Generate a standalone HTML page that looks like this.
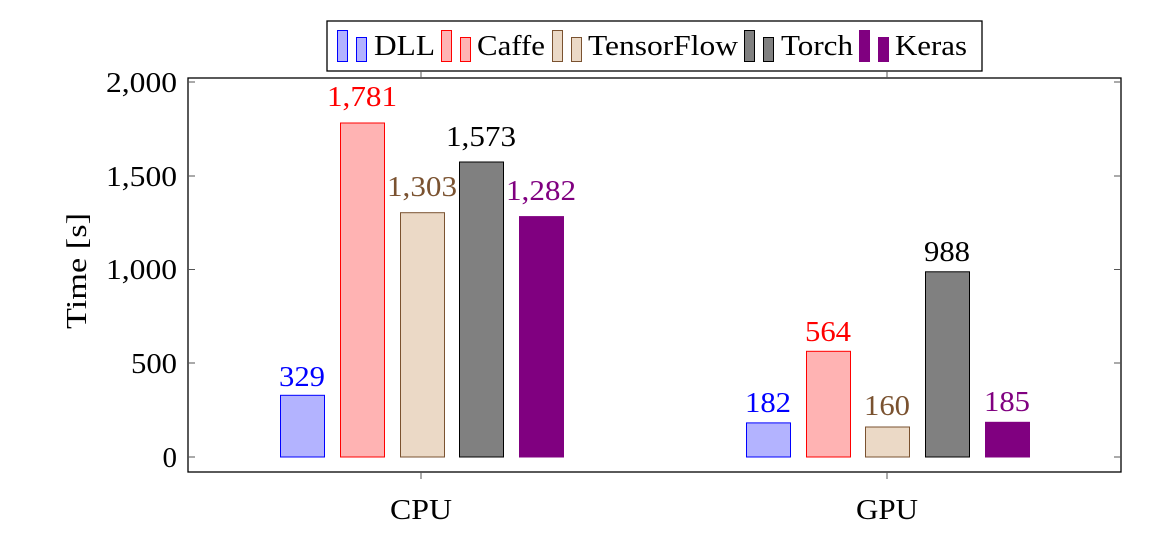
<!DOCTYPE html>
<html><head><meta charset="utf-8"><style>
html,body{margin:0;padding:0;background:#fff;}
svg text{font-family:"Liberation Serif",serif;font-size:29px;}
</style></head><body>
<svg width="1151" height="536" viewBox="0 0 1151 536" xmlns="http://www.w3.org/2000/svg">
<!-- legend -->
<rect x="327" y="21" width="655" height="50" fill="#fff" stroke="#000" stroke-width="1.3"/>
<rect x="337.5" y="30.5" width="10" height="31" fill="#b3b3ff" stroke="#00f"/>
<rect x="356.5" y="37.5" width="10" height="24" fill="#b3b3ff" stroke="#00f"/>
<text x="374" y="55" textLength="61" lengthAdjust="spacingAndGlyphs">DLL</text>
<rect x="441.5" y="30.5" width="10" height="31" fill="#ffb3b3" stroke="#f00"/>
<rect x="460.5" y="37.5" width="10" height="24" fill="#ffb3b3" stroke="#f00"/>
<text x="477" y="55" textLength="68" lengthAdjust="spacingAndGlyphs">Caffe</text>
<rect x="552.5" y="30.5" width="10" height="31" fill="#ebd9c6" stroke="#7a5230"/>
<rect x="571.5" y="37.5" width="10" height="24" fill="#ebd9c6" stroke="#7a5230"/>
<text x="588" y="55" textLength="150" lengthAdjust="spacingAndGlyphs">TensorFlow</text>
<rect x="744.5" y="30.5" width="10" height="31" fill="#808080" stroke="#000"/>
<rect x="763.5" y="37.5" width="10" height="24" fill="#808080" stroke="#000"/>
<text x="781" y="55" textLength="72" lengthAdjust="spacingAndGlyphs">Torch</text>
<rect x="859.5" y="30.5" width="10" height="31" fill="#800080" stroke="#800080"/>
<rect x="878.5" y="37.5" width="10" height="24" fill="#800080" stroke="#800080"/>
<text x="895" y="55" textLength="72" lengthAdjust="spacingAndGlyphs">Keras</text>

<!-- axes -->
<rect x="188" y="78" width="933" height="394" fill="none" stroke="#000" stroke-width="1.3"/>
<g stroke="#555" stroke-width="1">
<line x1="188" y1="82" x2="195" y2="82"/><line x1="1121" y1="82" x2="1114" y2="82"/>
<line x1="188" y1="176" x2="195" y2="176"/><line x1="1121" y1="176" x2="1114" y2="176"/>
<line x1="188" y1="269.5" x2="195" y2="269.5"/><line x1="1121" y1="269.5" x2="1114" y2="269.5"/>
<line x1="188" y1="363" x2="195" y2="363"/><line x1="1121" y1="363" x2="1114" y2="363"/>
<line x1="188" y1="457" x2="195" y2="457"/><line x1="1121" y1="457" x2="1114" y2="457"/>
<line x1="421" y1="472" x2="421" y2="479"/><line x1="887" y1="472" x2="887" y2="479"/>
<line x1="421" y1="78" x2="421" y2="71"/><line x1="887" y1="78" x2="887" y2="71"/>
</g>
<g text-anchor="end">
<text x="177" y="92" textLength="71" lengthAdjust="spacingAndGlyphs">2,000</text>
<text x="177" y="186" textLength="71" lengthAdjust="spacingAndGlyphs">1,500</text>
<text x="177" y="279" textLength="71" lengthAdjust="spacingAndGlyphs">1,000</text>
<text x="177" y="373" textLength="46" lengthAdjust="spacingAndGlyphs">500</text>
<text x="177" y="467">0</text>
</g>
<text x="421" y="519" text-anchor="middle" textLength="62" lengthAdjust="spacingAndGlyphs">CPU</text>
<text x="887" y="519" text-anchor="middle" textLength="62" lengthAdjust="spacingAndGlyphs">GPU</text>
<text transform="translate(86,271) rotate(-90)" text-anchor="middle" textLength="116" lengthAdjust="spacingAndGlyphs">Time [s]</text>

<!-- bars CPU -->
<rect x="280.5" y="395.3" width="44" height="61.7" fill="#b3b3ff" stroke="#00f"/>
<rect x="340.5" y="123" width="44" height="334" fill="#ffb3b3" stroke="#f00"/>
<rect x="400.5" y="212.7" width="44" height="244.3" fill="#ebd9c6" stroke="#7a5230"/>
<rect x="459.5" y="162" width="44" height="295" fill="#808080" stroke="#000"/>
<rect x="519.5" y="216.6" width="44" height="240.4" fill="#800080" stroke="#800080"/>
<!-- bars GPU -->
<rect x="746.5" y="422.9" width="44" height="34.1" fill="#b3b3ff" stroke="#00f"/>
<rect x="806.5" y="351.3" width="44" height="105.7" fill="#ffb3b3" stroke="#f00"/>
<rect x="865.5" y="427" width="44" height="30" fill="#ebd9c6" stroke="#7a5230"/>
<rect x="925.5" y="271.8" width="44" height="185.2" fill="#808080" stroke="#000"/>
<rect x="985.5" y="422.3" width="44" height="34.7" fill="#800080" stroke="#800080"/>

<!-- value labels -->
<g text-anchor="middle">
<text x="302" y="386" fill="#00f" textLength="46" lengthAdjust="spacingAndGlyphs">329</text>
<text x="362" y="106" fill="#f00" textLength="70" lengthAdjust="spacingAndGlyphs">1,781</text>
<text x="422" y="196" fill="#7a5230" textLength="70" lengthAdjust="spacingAndGlyphs">1,303</text>
<text x="481" y="146" fill="#000" textLength="70" lengthAdjust="spacingAndGlyphs">1,573</text>
<text x="541" y="200" fill="#800080" textLength="70" lengthAdjust="spacingAndGlyphs">1,282</text>
<text x="768" y="412" fill="#00f" textLength="46" lengthAdjust="spacingAndGlyphs">182</text>
<text x="828" y="341" fill="#f00" textLength="46" lengthAdjust="spacingAndGlyphs">564</text>
<text x="887" y="415" fill="#7a5230" textLength="46" lengthAdjust="spacingAndGlyphs">160</text>
<text x="947" y="261" fill="#000" textLength="46" lengthAdjust="spacingAndGlyphs">988</text>
<text x="1007" y="411" fill="#800080" textLength="46" lengthAdjust="spacingAndGlyphs">185</text>
</g>
</svg>
</body></html>
